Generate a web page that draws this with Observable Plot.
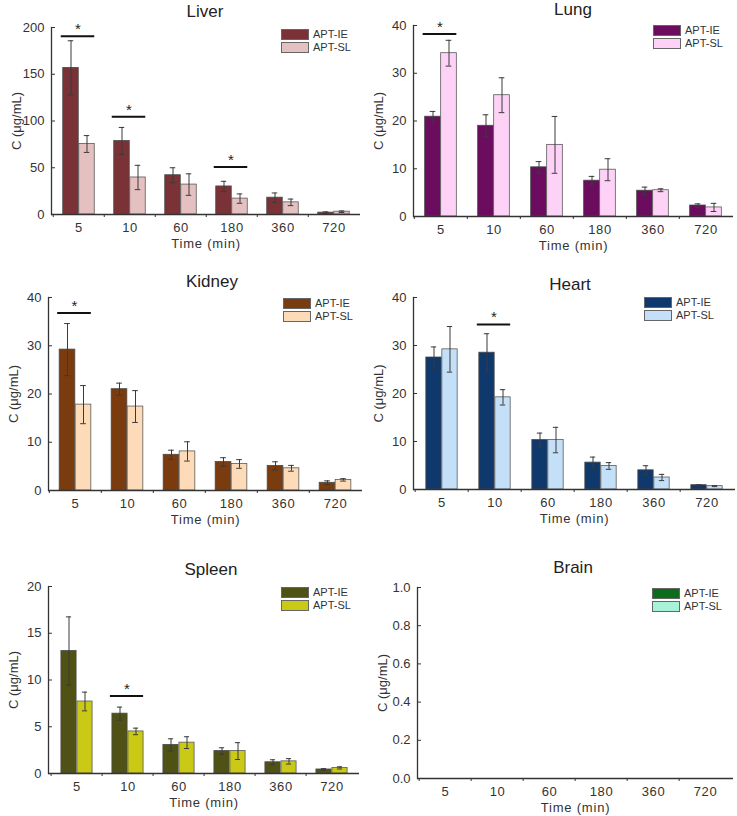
<!DOCTYPE html>
<html><head><meta charset="utf-8">
<script src="https://cdn.jsdelivr.net/npm/d3@7"></script>
<script src="https://cdn.jsdelivr.net/npm/@observablehq/plot@0.6"></script>
<style>
body{margin:0;background:#fff;font-family:"Liberation Sans",Arial,sans-serif;}
#wrap{position:relative;width:737px;height:816px;overflow:hidden;}
.panel{position:absolute;}
.title{position:absolute;font-size:17px;color:#222;transform:translate(-50%,-50%);white-space:nowrap;}
.legend{position:absolute;font-size:11px;line-height:11px;color:#333;}
.legend .row{display:flex;align-items:center;height:13px;}
.legend .sw{width:28px;height:11px;border:1px solid #666;box-sizing:border-box;margin-right:4px;}
svg [aria-label="x-axis tick label"] text{letter-spacing:0.6px;}
svg [aria-label="x-axis label"] text{letter-spacing:0.8px;}
</style></head><body><div id="wrap"></div><script>
const times = ["5","10","60","180","360","720"];
const seriesNames = ["APT-IE","APT-SL"];

const liverIE = [156.8, 78.6, 42, 30, 18, 2];
const liverIEsd = [29, 14.5, 8, 5.5, 5, 0.8];
const liverSL = [75.4, 39.6, 32, 17, 13, 3];
const liverSLsd = [9, 13, 11.5, 5, 3.5, 0.8];
const liverSigTimes = ["5","10","180"];
const liverSigLevels = [190.7, 104.6, 50.7];

const lungIE = [20.9, 19.0, 10.3, 7.5, 5.4, 2.3];
const lungIEsd = [1.1, 2.3, 1.2, 0.9, 0.75, 0.35];
const lungSL = [34.2, 25.4, 15.0, 9.8, 5.5, 1.9];
const lungSLsd = [2.7, 3.65, 5.95, 2.3, 0.3, 0.85];
const lungSigTimes = ["5"];
const lungSigLevels = [38.2];

const kidneyIE = [29.2, 21.0, 7.4, 5.9, 5.1, 1.6];
const kidneyIEsd = [5.4, 1.25, 0.95, 0.9, 0.85, 0.4];
const kidneySL = [17.8, 17.4, 8.1, 5.5, 4.6, 2.2];
const kidneySLsd = [3.95, 3.3, 2.0, 0.9, 0.6, 0.25];
const kidneySigTimes = ["5"];
const kidneySigLevels = [36.8];

const heartIE = [27.5, 28.5, 10.3, 5.6, 4.0, 0.9];
const heartIEsd = [2.2, 3.95, 1.45, 1.15, 0.95, 0.1];
const heartSL = [29.2, 19.2, 10.3, 4.9, 2.5, 0.7];
const heartSLsd = [4.75, 1.6, 2.65, 0.7, 0.65, 0.1];
const heartSigTimes = ["10"];
const heartSigLevels = [34.4];

const spleenIE = [13.1, 6.4, 3.06, 2.4, 1.2, 0.43];
const spleenIEsd = [3.65, 0.7, 0.65, 0.35, 0.27, 0.09];
const spleenSL = [7.7, 4.5, 3.3, 2.4, 1.3, 0.6];
const spleenSLsd = [1.0, 0.35, 0.63, 0.9, 0.29, 0.12];
const spleenSigTimes = ["10"];
const spleenSigLevels = [8.3];

const brainIE = [];
const brainIEsd = [];
const brainSL = [];
const brainSLsd = [];
const brainSigTimes = [];
const brainSigLevels = [];

const panels = [
  {name:"Liver", ie:liverIE, ieSd:liverIEsd, sl:liverSL, slSd:liverSLsd, sigT:liverSigTimes, sigY:liverSigLevels,
   colors:["#7b3237","#e4c0c1"], yDomain:[0,200], yTicks:[0,50,100,150,200], fmt:d3.format("d"),
   left:0, top:0, width:368, height:262, mt:27, mb:48, ml:51, mr:8, title:[205,12], legend:[281,28]},
  {name:"Lung", ie:lungIE, ieSd:lungIEsd, sl:lungSL, slSd:lungSLsd, sigT:lungSigTimes, sigY:lungSigLevels,
   colors:["#6b0c5f","#fdd2f6"], yDomain:[0,40], yTicks:[0,10,20,30,40], fmt:d3.format("d"),
   left:368, top:0, width:369, height:262, mt:25, mb:46, ml:45, mr:4, title:[573,10], legend:[653,24]},
  {name:"Kidney", ie:kidneyIE, ieSd:kidneyIEsd, sl:kidneySL, slSd:kidneySLsd, sigT:kidneySigTimes, sigY:kidneySigLevels,
   colors:["#7a3b0f","#fddbb8"], yDomain:[0,40], yTicks:[0,10,20,30,40], fmt:d3.format("d"),
   left:0, top:262, width:368, height:278, mt:35, mb:50, ml:48, mr:6, title:[212,282], legend:[283,297]},
  {name:"Heart", ie:heartIE, ieSd:heartIEsd, sl:heartSL, slSd:heartSLsd, sigT:heartSigTimes, sigY:heartSigLevels,
   colors:["#0f386c","#c4e0f8"], yDomain:[0,40], yTicks:[0,10,20,30,40], fmt:d3.format("d"),
   left:368, top:262, width:369, height:278, mt:35, mb:51, ml:45, mr:2, title:[570,285], legend:[644,296]},
  {name:"Spleen", ie:spleenIE, ieSd:spleenIEsd, sl:spleenSL, slSd:spleenSLsd, sigT:spleenSigTimes, sigY:spleenSigLevels,
   colors:["#4f5214","#cac916"], yDomain:[0,20], yTicks:[0,5,10,15,20], fmt:d3.format("d"),
   left:0, top:540, width:368, height:276, mt:46, mb:43, ml:48, mr:9, title:[211,570], legend:[281,586]},
  {name:"Brain", ie:brainIE, ieSd:brainIEsd, sl:brainSL, slSd:brainSLsd, sigT:brainSigTimes, sigY:brainSigLevels,
   colors:["#0d6c1b","#a8f2d8"], yDomain:[0,1], yTicks:[0,0.2,0.4,0.6,0.8,1.0], fmt:d3.format(".1f"),
   left:368, top:540, width:369, height:276, mt:47, mb:38, ml:49, mr:4, title:[573,568], legend:[652,587]}
];

const wrap = document.getElementById("wrap");
const barW = 16;

for (const p of panels) {
  const rowsIE = p.ie.map((v,i)=>({time:times[i], mean:v, sd:p.ieSd[i]}));
  const rowsSL = p.sl.map((v,i)=>({time:times[i], mean:v, sd:p.slSd[i]}));
  const sig = p.sigT.map((t,i)=>({time:t, y:p.sigY[i]}));
  const bw = (p.width - p.ml - p.mr) / times.length;
  const h = bw/2;
  const eb = {stroke:"#3a3a3a", strokeWidth:1};
  const chart = Plot.plot({
    width:p.width, height:p.height,
    marginTop:p.mt, marginBottom:p.mb, marginLeft:p.ml, marginRight:p.mr,
    style:{fontFamily:"Liberation Sans, Arial, sans-serif", fontSize:"12px", color:"#333", background:"transparent"},
    x:{domain:times, padding:0},
    y:{domain:p.yDomain},
    marks:[
      Plot.barY(rowsIE, {x:"time", y:"mean", fill:p.colors[0], stroke:"#4a4a4a", strokeWidth:0.8, insetLeft:h-barW, insetRight:h}),
      Plot.barY(rowsSL, {x:"time", y:"mean", fill:p.colors[1], stroke:"#5a5a5a", strokeWidth:0.8, insetLeft:h, insetRight:h-barW}),
      Plot.ruleX(rowsIE, {x:"time", y1:d=>d.mean-d.sd, y2:d=>d.mean+d.sd, dx:-barW/2, ...eb}),
      Plot.ruleX(rowsSL, {x:"time", y1:d=>d.mean-d.sd, y2:d=>d.mean+d.sd, dx:barW/2, ...eb}),
      Plot.tickY(rowsIE, {x:"time", y:d=>d.mean+d.sd, insetLeft:h-barW/2-3, insetRight:h+barW/2-3, ...eb}),
      Plot.tickY(rowsIE, {x:"time", y:d=>d.mean-d.sd, insetLeft:h-barW/2-3, insetRight:h+barW/2-3, ...eb}),
      Plot.tickY(rowsSL, {x:"time", y:d=>d.mean+d.sd, insetLeft:h+barW/2-3, insetRight:h-barW/2-3, ...eb}),
      Plot.tickY(rowsSL, {x:"time", y:d=>d.mean-d.sd, insetLeft:h+barW/2-3, insetRight:h-barW/2-3, ...eb}),
      Plot.ruleY(sig, {x1:"time", x2:"time", y:"y", insetLeft:h-18, insetRight:h-16, stroke:"#111", strokeWidth:2}),
      Plot.text(sig, {x:"time", y:"y", text:()=>"*", dy:-7, dx:-1, fontSize:15, fill:"#222"}),
      Plot.ruleY([p.yDomain[0]], {stroke:"#333", strokeWidth:1.3}),
      Plot.frame({anchor:"left", stroke:"#333", strokeWidth:1.3}),
      Plot.axisX({tickSize:0, tickPadding:8, fontSize:13, label:"Time (min)", labelAnchor:"center", labelOffset:33, labelArrow:"none"}),
      Plot.axisX({tickSize:3, text:null, label:null, dx:-h, stroke:"#333"}),
      Plot.axisY({ticks:p.yTicks, tickFormat:p.fmt, tickSize:-4, tickPadding:11, fontSize:13, label:"C (μg/mL)", labelAnchor:"center", labelOffset:40, labelArrow:"none", stroke:"#333"})
    ]
  });
  chart.classList.add("panel");
  chart.style.left = p.left + "px";
  chart.style.top = p.top + "px";
  wrap.appendChild(chart);

  const t = document.createElement("div");
  t.className = "title";
  t.textContent = p.name;
  t.style.left = p.title[0] + "px";
  t.style.top = p.title[1] + "px";
  wrap.appendChild(t);

  const lg = document.createElement("div");
  lg.className = "legend";
  lg.style.left = p.legend[0] + "px";
  lg.style.top = p.legend[1] + "px";
  seriesNames.forEach((s,i)=>{
    const r = document.createElement("div"); r.className = "row";
    const sw = document.createElement("div"); sw.className = "sw"; sw.style.background = p.colors[i];
    const tx = document.createElement("span"); tx.textContent = s;
    r.appendChild(sw); r.appendChild(tx); lg.appendChild(r);
  });
  wrap.appendChild(lg);
}
</script></body></html>
